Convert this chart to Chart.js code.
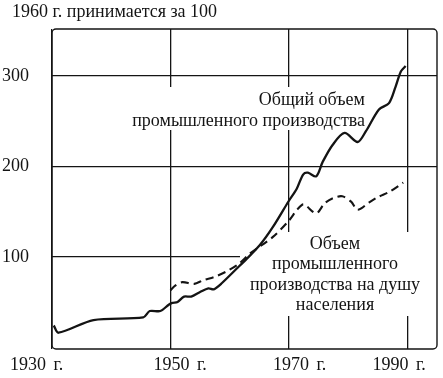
<!DOCTYPE html>
<html>
<head>
<meta charset="utf-8">
<script src="https://cdn.jsdelivr.net/npm/chart.js@4"></script>
<style>
  html, body { margin: 0; padding: 0; background: #fff; }
  canvas { display: block; }
</style>
</head>
<body>
<canvas id="chart" width="443" height="378"></canvas>
<script>
// Index of industrial production, 1960 = 100
const totalYears = [1930.3, 1931.1, 1937.0, 1945.4, 1946.5, 1948.3, 1949.7, 1950.3, 1951.2, 1952.3, 1953.5, 1955.0, 1956.4, 1957.3, 1958.7, 1961.2, 1962.9, 1965.1, 1967.3, 1970.0, 1971.3, 1972.4, 1973.2, 1974.6, 1975.7, 1977.4, 1979.4, 1981.6, 1983.0, 1985.2, 1986.9, 1988.0, 1988.9, 1989.7];
const totalValues = [24, 16, 30, 33, 40, 40, 47, 49, 50, 56, 56, 61, 65, 64, 71, 87, 98, 113, 133, 162, 175, 191, 193, 189, 205, 224, 237, 227, 239, 263, 270, 288, 305, 311];

const perCapYears = [1950.0, 1950.8, 1952.0, 1954.0, 1955.5, 1957.5, 1959.5, 1961.5, 1963.5, 1967.3, 1970.0, 1971.5, 1972.5, 1974.6, 1976.0, 1977.5, 1979.0, 1980.5, 1981.6, 1983.5, 1985.0, 1987.0, 1989.3];
const perCapValues = [63, 68, 72, 70, 74, 78, 84, 92, 104, 122, 140, 153, 158, 148, 159, 165, 167, 161, 152, 160, 166, 172, 182];

const xTicks = [1930, 1950, 1970, 1990];
const xLabels = ['1930 г.', '1950 г.', '1970 г.', '1990 г.'];
const yTicks = [100, 200, 300];

const titleText = '1960 г. принимается за 100';
const totalNote = ['Общий объем', 'промышленного производства'];
const perCapNote = ['Объем', 'промышленного', 'производства на душу', 'населения'];

const INK = '#141414';
const SERIF = '"Liberation Serif", "DejaVu Serif", serif';

function pts(xs, ys) {
    return xs.map((x, i) => ({ x: x, y: ys[i] }));
}

// white boxes behind notes, frame, labels
const decor = {
    id: 'decor',
    beforeDatasetsDraw(chart) {
        const ctx = chart.ctx;
        const a = chart.chartArea;
        ctx.save();
        ctx.fillStyle = '#fff';
        ctx.fillRect(140, 87, 228, 43);
        ctx.fillRect(240, 232, a.right - 240, 84);

        // frame with soft corners
        ctx.strokeStyle = INK;
        ctx.lineWidth = 1.4;
        ctx.beginPath();
        ctx.roundRect(a.left, a.top, a.right - a.left, a.bottom - a.top, 4);
        ctx.stroke();

        ctx.fillStyle = INK;
        ctx.font = '18px ' + SERIF;
        ctx.textBaseline = 'middle';
        ctx.textAlign = 'right';
        totalNote.forEach((t, i) => ctx.fillText(t, 365, 100 + i * 21));
        ctx.textAlign = 'center';
        perCapNote.forEach((t, i) => ctx.fillText(t, 335, 244 + i * 20.5));
        ctx.restore();
    },
    afterDraw(chart) {
        const ctx = chart.ctx;
        const xs = chart.scales.x, ys = chart.scales.y;
        ctx.save();
        ctx.fillStyle = INK;
        ctx.font = '18px ' + SERIF;
        ctx.textBaseline = 'middle';

        ctx.textAlign = 'left';
        ctx.fillText(titleText, 12, 12);

        ctx.textAlign = 'right';
        yTicks.forEach(v => ctx.fillText(String(v), 29, ys.getPixelForValue(v)));

        // year labels sit a little off their gridlines, as in the print
        const shift = [-42, -17, -16, -35];
        ctx.textAlign = 'left';
        ctx.wordSpacing = '3px';
        xTicks.forEach((v, i) => ctx.fillText(xLabels[i], xs.getPixelForValue(v) + shift[i], 365));
        ctx.restore();
    }
};

new Chart(document.getElementById('chart'), {
    type: 'line',
    data: {
        datasets: [
            {
                label: 'total',
                data: pts(totalYears, totalValues),
                borderColor: INK,
                borderWidth: 2.3,
                tension: 0.3,
                pointRadius: 0
            },
            {
                label: 'per capita',
                data: pts(perCapYears, perCapValues),
                borderColor: INK,
                borderWidth: 2.1,
                borderDash: [8, 5],
                tension: 0.3,
                pointRadius: 0
            }
        ]
    },
    options: {
        responsive: false,
        animation: false,
        devicePixelRatio: 1,
        layout: { padding: { left: 52, right: 6, top: 29, bottom: 29 } },
        plugins: { legend: { display: false }, tooltip: { enabled: false } },
        scales: {
            x: {
                type: 'linear',
                min: 1930,
                max: 1995,
                afterBuildTicks: s => { s.ticks = xTicks.map(v => ({ value: v })); },
                ticks: { display: false },
                grid: { color: INK, lineWidth: 1.3, drawTicks: false },
                border: { display: false }
            },
            y: {
                min: -2,
                max: 352,
                afterBuildTicks: s => { s.ticks = yTicks.map(v => ({ value: v })); },
                ticks: { display: false },
                grid: { color: INK, lineWidth: 1.3, drawTicks: false },
                border: { display: false }
            }
        }
    },
    plugins: [decor]
});
</script>
</body>
</html>
